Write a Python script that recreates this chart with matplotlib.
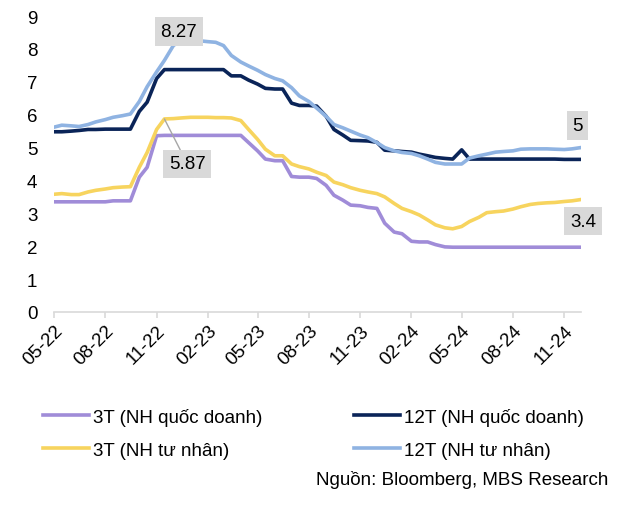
import pandas as pd
import matplotlib
matplotlib.use('Agg')
import matplotlib.pyplot as plt
import matplotlib.dates as mdates

plt.rcParams['font.family'] = ['Liberation Sans', 'DejaVu Sans']

# semi-monthly observations, May 2022 - Dec 2024
dates = pd.date_range('2022-05-01', periods=63, freq='SMS')

state_3m = [3.35, 3.35, 3.35, 3.35, 3.35, 3.35, 3.35, 3.38, 3.38, 3.38,
            4.1, 4.4, 5.36, 5.37, 5.37, 5.37, 5.37, 5.37, 5.37, 5.37,
            5.37, 5.37, 5.37, 5.15, 4.9, 4.65, 4.6, 4.6, 4.12, 4.1,
            4.1, 4.06, 3.85, 3.55, 3.4, 3.25, 3.23, 3.18, 3.15, 2.7,
            2.43, 2.38, 2.15, 2.13, 2.13, 2.05, 1.98, 1.97, 1.97, 1.97,
            1.97, 1.97, 1.97, 1.97, 1.97, 1.97, 1.97, 1.97, 1.97, 1.97,
            1.97, 1.97, 1.97]
state_12m = [5.48, 5.48, 5.5, 5.52, 5.55, 5.55, 5.56, 5.56, 5.56, 5.56,
             6.1, 6.38, 7.1, 7.37, 7.37, 7.37, 7.37, 7.37, 7.37, 7.37,
             7.37, 7.18, 7.18, 7.05, 6.93, 6.8, 6.78, 6.78, 6.35, 6.28,
             6.28, 6.26, 5.95, 5.55, 5.38, 5.22, 5.21, 5.2, 5.16, 4.92,
             4.9, 4.88, 4.86, 4.8, 4.75, 4.7, 4.67, 4.65, 4.93, 4.65,
             4.65, 4.65, 4.65, 4.65, 4.65, 4.65, 4.65, 4.65, 4.65, 4.65,
             4.64, 4.64, 4.64]
private_3m = [3.58, 3.6, 3.57, 3.57, 3.65, 3.7, 3.74, 3.78, 3.8, 3.81,
              4.4, 4.85, 5.55, 5.87, 5.88, 5.9, 5.92, 5.92, 5.92, 5.91,
              5.91, 5.9, 5.82, 5.55, 5.25, 4.95, 4.75, 4.75, 4.5, 4.42,
              4.35, 4.25, 4.15, 3.95, 3.87, 3.78, 3.7, 3.65, 3.6, 3.5,
              3.3, 3.15, 3.05, 2.95, 2.8, 2.65, 2.56, 2.53, 2.6, 2.75,
              2.88, 3.02, 3.05, 3.07, 3.13, 3.2, 3.27, 3.3, 3.32, 3.33,
              3.36, 3.38, 3.42]
private_12m = [5.62, 5.68, 5.66, 5.64, 5.7, 5.78, 5.85, 5.92, 5.97, 6.02,
               6.4, 6.85, 7.3, 7.65, 8.1, 8.27, 8.27, 8.25, 8.22, 8.2,
               8.1, 7.8, 7.6, 7.48, 7.35, 7.22, 7.1, 7.03, 6.82, 6.57,
               6.4, 6.2, 5.95, 5.7, 5.6, 5.5, 5.38, 5.3, 5.15, 5.0,
               4.9, 4.85, 4.82, 4.75, 4.65, 4.55, 4.5, 4.5, 4.5, 4.68,
               4.75, 4.8, 4.86, 4.88, 4.9, 4.95, 4.96, 4.96, 4.96, 4.95,
               4.94, 4.96, 5.0]

labels = ['3T (NH quốc doanh)', '12T (NH quốc doanh)', '3T (NH tư nhân)', '12T (NH tư nhân)']
colors = ['#A08CD8', '#0A2458', '#F7D45E', '#8FB3E2']

fs = 13.5
fig = plt.figure(figsize=(6.26, 5.06), dpi=100)
ax = fig.add_axes([54 / 626, 1 - 313 / 506, 527 / 626, 296 / 506])

series = [state_3m, state_12m, private_3m, private_12m]
lines = []
for vals, lab, col in zip(series, labels, colors):
    ln, = ax.plot(dates, vals, color=col, lw=2.6, label=lab)
    lines.append(ln)

ax.set_ylim(0, 9)
ax.set_yticks(range(0, 10))
ax.set_xlim(dates[0], dates[-1])
ax.xaxis.set_major_locator(mdates.MonthLocator(bymonth=[2, 5, 8, 11]))
ax.xaxis.set_major_formatter(mdates.DateFormatter('%m-%y'))
for s in ['top', 'right', 'left']:
    ax.spines[s].set_visible(False)
ax.spines['bottom'].set_color('#D9D9D9')
ax.spines['bottom'].set_linewidth(1.2)
ax.tick_params(axis='y', length=0, pad=12, labelsize=fs)
ax.tick_params(axis='x', length=4, color='#D9D9D9', width=1.2, pad=3, labelsize=fs)
for t in ax.get_xticklabels():
    t.set_rotation(45)
    t.set_ha('right')
    t.set_rotation_mode('anchor')

box = dict(boxstyle='square,pad=0.3', fc='#D9D9D9', ec='none')
px = 72 / 100
ax.annotate('8.27', xy=(dates[15], private_12m[15]), xytext=(-2.5 * px, 8.5 * px),
            textcoords='offset points', ha='center', va='center', fontsize=fs, bbox=box)
ax.annotate('5.87', xy=(dates[13], private_3m[13]), xytext=(23 * px, -45 * px),
            textcoords='offset points', ha='center', va='center', fontsize=fs, bbox=box,
            arrowprops=dict(arrowstyle='-', color='#A6A6A6', lw=1, shrinkA=0, shrinkB=0))
ax.annotate('5', xy=(dates[-1], private_12m[-1]), xytext=(-3.5 * px, 22 * px),
            textcoords='offset points', ha='center', va='center', fontsize=fs, bbox=box,
            annotation_clip=False)
ax.annotate('3.4', xy=(dates[-1], private_3m[-1]), xytext=(2 * px, -21.5 * px),
            textcoords='offset points', ha='center', va='center', fontsize=fs, bbox=box,
            annotation_clip=False)

# legend fills column by column, so order the handles for the row layout
order = [0, 2, 1, 3]
fig.legend([lines[i] for i in order], [labels[i] for i in order],
           loc='upper left', bbox_to_anchor=(26 / 626, 1 - 392 / 506), ncol=2, frameon=False,
           fontsize=fs, handlelength=2.45, handletextpad=0.2, columnspacing=4.9,
           labelspacing=0.85)
fig.text(608 / 626, 1 - 480 / 506, 'Nguồn: Bloomberg, MBS Research', ha='right', va='center',
         fontsize=fs)

fig.savefig('out.png', dpi=100)
